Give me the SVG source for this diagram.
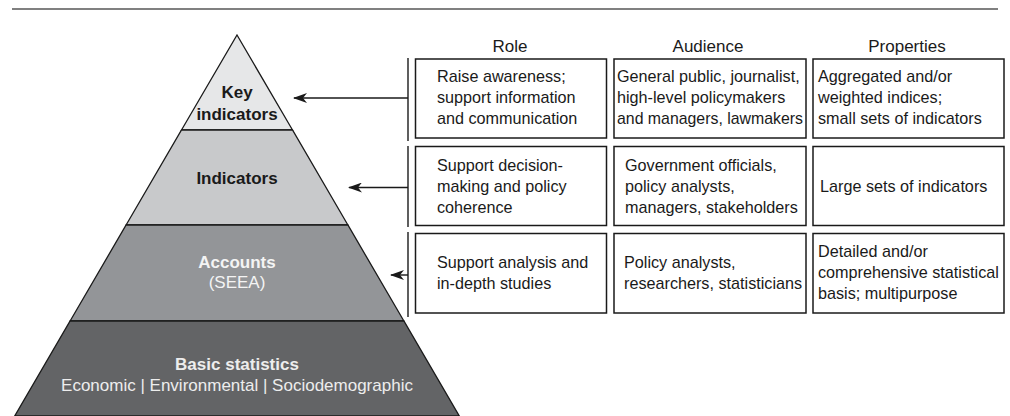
<svg xmlns="http://www.w3.org/2000/svg" width="1010" height="416" viewBox="0 0 1010 416">
  <style>
    .band { stroke: #1a1a1a; stroke-width: 1.3; }
    .lbl { font-family: "Liberation Sans", Arial, sans-serif; font-size: 17px; text-anchor: middle; }
    .bold { font-weight: bold; }
    .box { fill: #ffffff; stroke: #1a1a1a; stroke-width: 1.5; }
    .txt { font-family: "Liberation Sans", Arial, sans-serif; font-size: 16.2px; fill: #1a1a1a; }
    .head { font-family: "Liberation Sans", Arial, sans-serif; font-size: 17px; fill: #1a1a1a; text-anchor: middle; }
    .conn { stroke: #1a1a1a; stroke-width: 1.4; fill: none; }
  </style>
  <defs>
    <marker id="arrowhead" viewBox="0 0 14 10" refX="13" refY="5" markerWidth="14" markerHeight="10" markerUnits="userSpaceOnUse" orient="auto">
      <path d="M14,5 L0,0 L4,5 L0,10 Z" fill="#1a1a1a"/>
    </marker>
  </defs>

  <rect width="1010" height="416" fill="#ffffff"/>
  <line x1="12" y1="9" x2="998" y2="9" stroke="#808080" stroke-width="2"/>

  <!-- pyramid levels -->
  <g id="level-key">
    <path class="band" d="M237,35 L292.5,130 L181.5,130 Z" fill="#e6e7e8"/>
    <text class="lbl bold" x="237" y="98" fill="#1a1a1a">Key</text>
    <text class="lbl bold" x="237" y="120" fill="#1a1a1a">indicators</text>
  </g>
  <g id="level-indicators">
    <path class="band" d="M181.5,130 L292.5,130 L347.9,225 L126.1,225 Z" fill="#c8c9cb"/>
    <text class="lbl bold" x="237" y="184" fill="#1a1a1a">Indicators</text>
  </g>
  <g id="level-accounts">
    <path class="band" d="M126.1,225 L347.9,225 L403.9,321 L70.1,321 Z" fill="#939598"/>
    <text class="lbl bold" x="237" y="268" fill="#f4f4f4">Accounts</text>
    <text class="lbl" x="237" y="288" fill="#f4f4f4">(SEEA)</text>
  </g>
  <g id="level-basic">
    <path class="band" d="M70.1,321 L403.9,321 L459.3,416 L14.7,416 Z" fill="#636466"/>
    <text class="lbl bold" x="237" y="370" fill="#ededed">Basic statistics</text>
    <text class="lbl" x="237" y="391" fill="#ededed">Economic | Environmental | Sociodemographic</text>
  </g>

  <!-- column headings -->
  <g id="headings">
    <text class="head" x="510" y="52">Role</text>
    <text class="head" x="708" y="52">Audience</text>
    <text class="head" x="907" y="52">Properties</text>
  </g>

  <!-- row 1 -->
  <g id="row-key">
    <rect class="box" x="415.5" y="59" width="191" height="79"/>
    <text class="txt" x="437" y="82">Raise awareness;</text>
    <text class="txt" x="437" y="103">support information</text>
    <text class="txt" x="437" y="124">and communication</text>
    <rect class="box" x="614" y="59" width="192" height="79"/>
    <text class="txt" x="617" y="82">General public, journalist,</text>
    <text class="txt" x="617" y="103">high-level policymakers</text>
    <text class="txt" x="617" y="124" textLength="186" lengthAdjust="spacingAndGlyphs">and managers, lawmakers</text>
    <rect class="box" x="813" y="59" width="191" height="79"/>
    <text class="txt" x="818" y="82">Aggregated and/or</text>
    <text class="txt" x="818" y="103">weighted indices;</text>
    <text class="txt" x="818" y="124">small sets of indicators</text>
  </g>

  <!-- row 2 -->
  <g id="row-indicators">
    <rect class="box" x="415.5" y="146.5" width="191" height="79"/>
    <text class="txt" x="437" y="171">Support decision-</text>
    <text class="txt" x="437" y="192">making and policy</text>
    <text class="txt" x="437" y="213">coherence</text>
    <rect class="box" x="614" y="146.5" width="192" height="79"/>
    <text class="txt" x="625" y="171">Government officials,</text>
    <text class="txt" x="625" y="192">policy analysts,</text>
    <text class="txt" x="625" y="213">managers, stakeholders</text>
    <rect class="box" x="813" y="146.5" width="191" height="79"/>
    <text class="txt" x="820" y="192">Large sets of indicators</text>
  </g>

  <!-- row 3 -->
  <g id="row-accounts">
    <rect class="box" x="415.5" y="233.5" width="191" height="79.5"/>
    <text class="txt" x="437" y="268">Support analysis and</text>
    <text class="txt" x="437" y="289">in-depth studies</text>
    <rect class="box" x="614" y="233.5" width="192" height="79.5"/>
    <text class="txt" x="624" y="268">Policy analysts,</text>
    <text class="txt" x="624" y="289">researchers, statisticians</text>
    <rect class="box" x="813" y="233.5" width="191" height="79.5"/>
    <text class="txt" x="818" y="257">Detailed and/or</text>
    <text class="txt" x="818" y="278">comprehensive statistical</text>
    <text class="txt" x="818" y="299">basis; multipurpose</text>
  </g>

  <!-- connectors: brackets and arrows -->
  <g id="connectors">
    <line class="conn" x1="408" y1="58" x2="408" y2="141"/>
    <line class="conn" x1="408" y1="146" x2="408" y2="227"/>
    <line class="conn" x1="408" y1="232" x2="408" y2="317"/>
    <line class="conn" x1="408" y1="98" x2="294" y2="98" marker-end="url(#arrowhead)"/>
    <line class="conn" x1="408" y1="187.5" x2="349" y2="187.5" marker-end="url(#arrowhead)"/>
    <line class="conn" x1="408" y1="275" x2="391" y2="275" marker-end="url(#arrowhead)"/>
  </g>
</svg>
